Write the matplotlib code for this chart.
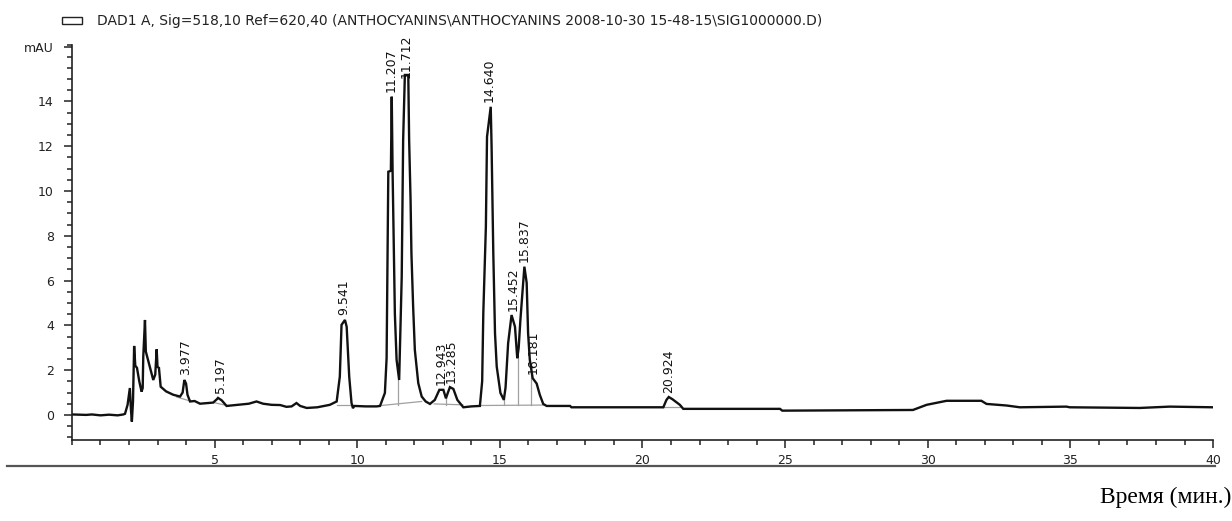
import matplotlib
matplotlib.use("Agg")
import matplotlib.pyplot as plt
from matplotlib.lines import Line2D
from matplotlib.patches import Rectangle
from matplotlib.ticker import MultipleLocator

plt.rcParams['font.family'] = ['DejaVu Sans']

# chromatogram trace (time in min, signal in mAU)
time = [0.00, 0.50, 0.70, 1.00, 1.30, 1.60, 1.80, 1.86, 1.95, 2.03, 2.07, 2.10,
        2.14, 2.18, 2.22, 2.28, 2.36, 2.44, 2.48, 2.50, 2.56, 2.59, 2.70, 2.85,
        2.92, 2.97, 3.00, 3.05, 3.11, 3.30, 3.55, 3.79, 3.88, 3.94, 4.00, 4.05,
        4.14, 4.30, 4.49, 4.95, 5.08, 5.12, 5.25, 5.42, 5.80, 6.20, 6.47, 6.70,
        7.00, 7.30, 7.52, 7.70, 7.87, 8.00, 8.23, 8.60, 9.04, 9.28, 9.39, 9.45,
        9.57, 9.63, 9.72, 9.80, 9.85, 9.90, 10.30, 10.68, 10.80, 10.97, 11.03, 11.09,
        11.18, 11.21, 11.24, 11.32, 11.38, 11.47, 11.56, 11.61, 11.67, 11.79, 11.82, 11.87,
        11.90, 11.96, 12.02, 12.14, 12.26, 12.40, 12.55, 12.72, 12.88, 13.02, 13.11, 13.18,
        13.25, 13.37, 13.51, 13.72, 14.00, 14.30, 14.38, 14.42, 14.51, 14.55, 14.68, 14.71,
        14.77, 14.83, 14.89, 15.02, 15.14, 15.20, 15.29, 15.41, 15.53, 15.61, 15.66, 15.72,
        15.82, 15.86, 15.94, 15.99, 16.05, 16.15, 16.29, 16.40, 16.52, 16.64, 17.46, 17.51,
        20.73, 20.84, 20.92, 21.05, 21.31, 21.43, 24.82, 24.90, 29.48, 29.96, 30.66, 31.88,
        32.06, 32.76, 33.23, 34.86, 34.98, 37.43, 38.48, 40.00]
signal = [0.02, 0.00, 0.02, -0.02, 0.01, -0.02, 0.02, 0.05, 0.45, 1.20, 0.20, -0.30,
          0.60, 3.08, 2.20, 2.10, 1.50, 1.04, 1.20, 2.60, 4.24, 2.83, 2.30, 1.56,
          1.80, 2.93, 2.14, 2.10, 1.26, 1.05, 0.90, 0.82, 1.00, 1.56, 1.40, 0.90,
          0.60, 0.62, 0.50, 0.55, 0.70, 0.76, 0.65, 0.40, 0.45, 0.50, 0.60, 0.50,
          0.45, 0.44, 0.36, 0.38, 0.53, 0.40, 0.31, 0.34, 0.45, 0.60, 1.71, 4.02,
          4.24, 3.94, 1.70, 0.53, 0.30, 0.40, 0.38, 0.38, 0.40, 0.98, 2.53, 10.86,
          10.90, 14.21, 10.86, 4.50, 2.46, 1.56, 6.17, 12.28, 15.18, 15.18, 12.28, 9.60,
          7.23, 4.84, 2.90, 1.42, 0.82, 0.60, 0.49, 0.67, 1.12, 1.12, 0.74, 1.00,
          1.24, 1.16, 0.67, 0.34, 0.38, 0.40, 1.50, 4.55, 8.40, 12.42, 13.76, 12.00,
          7.23, 3.65, 2.16, 0.98, 0.67, 1.23, 3.20, 4.46, 3.94, 2.53, 3.00, 4.24,
          5.95, 6.62, 5.90, 3.65, 2.46, 1.64, 1.40, 0.90, 0.49, 0.40, 0.40, 0.34,
          0.34, 0.67, 0.80, 0.70, 0.45, 0.27, 0.27, 0.19, 0.22, 0.45, 0.63, 0.63,
          0.49, 0.42, 0.34, 0.37, 0.34, 0.31, 0.37, 0.34]

# labelled peaks: retention time and apex height
peak_times = [3.977, 5.197, 9.541, 11.207, 11.712, 12.943, 13.285, 14.640,
              15.452, 15.837, 16.181, 20.924]
peak_heights = [1.56, 0.76, 4.24, 14.21, 14.85, 1.12, 1.24, 13.76,
                4.46, 6.62, 1.64, 0.80]

# integration baselines (t0, v0, t1, v1) and drop lines (t, top)
base_segments = [(3.67, 0.80, 4.14, 0.62), (4.98, 0.55, 5.42, 0.42),
                 (9.28, 0.45, 9.85, 0.45), (10.84, 0.42, 12.26, 0.60),
                 (12.70, 0.49, 13.70, 0.45), (14.35, 0.42, 16.57, 0.44),
                 (20.70, 0.34, 21.35, 0.34)]
drop_lines = [(11.44, 1.56), (13.11, 0.74), (15.14, 0.67), (15.63, 2.53), (16.09, 2.30)]

legend_text = r"DAD1 A, Sig=518,10 Ref=620,40 (ANTHOCYANINS\ANTHOCYANINS 2008-10-30 15-48-15\SIG1000000.D)"

fig = plt.figure(figsize=(12.32, 5.21), dpi=100)
ax = fig.add_axes([0.0584, 0.1555, 0.9262, 0.7582])

for t0, v0, t1, v1 in base_segments:
    ax.plot([t0, t1], [v0, v1], color='#a0a0a0', lw=0.9)
for t, top in drop_lines:
    ax.plot([t, t], [0.44, top], color='#a0a0a0', lw=0.9)

ax.plot(time, signal, color='#111111', lw=1.7, solid_joinstyle='miter')

for t, h in zip(peak_times, peak_heights):
    ax.text(t, h + 0.2, '%.3f' % t, rotation=90, ha='center', va='bottom',
            fontsize=9, color='#111111', clip_on=False)

ax.set_xlim(0, 40)
ax.set_ylim(-1.12, 16.52)
ax.spines['top'].set_visible(False)
ax.spines['right'].set_visible(False)
for s in ('left', 'bottom'):
    ax.spines[s].set_color('#222222')
    ax.spines[s].set_linewidth(1.2)

ax.set_xticks([5, 10, 15, 20, 25, 30, 35, 40])
ax.xaxis.set_minor_locator(MultipleLocator(1))
ax.set_yticks([0, 2, 4, 6, 8, 10, 12, 14, 16.45])
ax.set_yticklabels(['0', '2', '4', '6', '8', '10', '12', '14', 'mAU'])
ax.yaxis.set_minor_locator(MultipleLocator(0.5))
ax.tick_params(which='major', length=6, width=1.1, color='#222222', labelsize=9,
               labelcolor='#222222')
ax.tick_params(which='minor', length=3.5, width=1.1, color='#222222')
ax.tick_params(axis='y', which='major', pad=7)
ax.tick_params(axis='x', which='major', pad=4)

# legend box and title line
fig.add_artist(Rectangle((62 / 1232, 1 - 24 / 521), 20 / 1232, 7 / 521,
                         transform=fig.transFigure, fill=False, ec='#222222', lw=1))
fig.text(97 / 1232, 1 - 21 / 521, legend_text, fontsize=10, color='#222222',
         ha='left', va='center')

# long rule under the tick labels
fig.add_artist(Line2D([7 / 1232, 1215 / 1232], [1 - 466 / 521, 1 - 466 / 521],
                      transform=fig.transFigure, color='#555555', lw=1.6))

fig.text(1231 / 1232, 1 - 497 / 521, 'Время (мин.)', family='Liberation Serif',
         fontsize=17, ha='right', va='center', color='black')

fig.savefig('out.png', dpi=100)
